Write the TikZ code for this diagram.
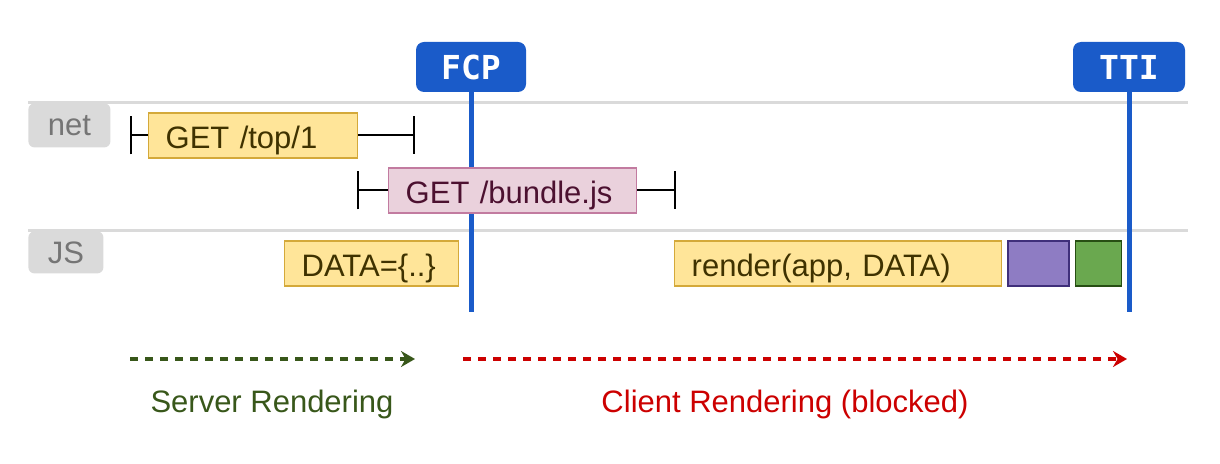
\documentclass[tikz,border=0pt]{standalone}
\usepackage{fontspec}
\setmainfont{Liberation Sans}
\newfontfamily\markfont{DejaVu Sans Mono}
\usetikzlibrary{arrows.meta,positioning}

\definecolor{markblue}{HTML}{1A5BC9}
\definecolor{lanegray}{HTML}{DADADA}
\definecolor{tabtext}{HTML}{757575}
\definecolor{yfill}{HTML}{FFE599}
\definecolor{ydraw}{HTML}{D4A93A}
\definecolor{ytext}{HTML}{3F3200}
\definecolor{pfill}{HTML}{EAD1DC}
\definecolor{pdraw}{HTML}{C27BA0}
\definecolor{ptext}{HTML}{4C1130}
\definecolor{vfill}{HTML}{8E7CC3}
\definecolor{vdraw}{HTML}{3F2F7A}
\definecolor{gfill}{HTML}{6AA84F}
\definecolor{gdraw}{HTML}{274E13}
\definecolor{srvgreen}{HTML}{38571A}
\definecolor{clired}{HTML}{CC0000}

\tikzset{
  marker/.style={fill=markblue, rounded corners=4pt, minimum height=25pt, text=white, font=\markfont\bfseries\fontsize{16.5}{18}\selectfont},
  markline/.style={markblue, line width=2.5pt},
  tab/.style={fill=lanegray, text=tabtext, rounded corners=3pt, anchor=north west, minimum height=22pt},
  lane/.style={lanegray, line width=1.5pt},
  task/.style={draw=ydraw, fill=yfill, text=ytext, line width=0.7pt, minimum height=22.5pt, anchor=west, align=left, inner xsep=8.5pt, text width=#1, text height=13.3pt, text depth=0.4pt},
  fetch/.style={task=#1, draw=pdraw, fill=pfill, text=ptext},
  chunk/.style={minimum width=#1, minimum height=22.5pt, line width=0.7pt},
  span/.style={line width=1pt, {Bar[width=19pt]}-{Bar[width=19pt]}},
  phase/.style={line width=2pt, dash pattern=on 4pt off 3.5pt, -{Stealth[length=7pt, width=8pt]}}
}

\begin{document}
\begin{tikzpicture}[x=0.5pt, y=-0.5pt, every node/.style={inner sep=0pt, font=\fontsize{15.5}{18}\selectfont}]
    \useasboundingbox (0,0) rectangle (1220,464);

    % lanes
    \node (net) [tab, minimum width=41pt] at (28,103) {net};
    \node (js) [tab, minimum width=37.5pt, minimum height=21pt] at (28,231) {JS};
    \coordinate (netEnd) at (1188,103);
    \coordinate (jsEnd) at (1188,231);
    \draw[lane] (net.north west) -- (netEnd);
    \draw[lane] (js.north west) -- (jsEnd);

    % milestones
    \node (fcp) [marker, minimum width=55pt] at (471,67) {FCP};
    \node (tti) [marker, minimum width=56pt] at (1129,67) {TTI};
    \coordinate (fcpEnd) at (471,312);
    \coordinate (ttiEnd) at (1129,312);
    \draw[markline] (fcp.south) -- (fcpEnd);
    \draw[markline] (tti.south) -- (ttiEnd);

    % requests
    \coordinate (topStart) at (130,135.5);
    \coordinate (topEnd) at (415,135.5);
    \coordinate (bundleStart) at (357,190.5);
    \coordinate (bundleEnd) at (676,190.5);
    \draw[span] (topStart) -- (topEnd);
    \draw[span] (bundleStart) -- (bundleEnd);
    \node (top) [task=87.5pt] at (148,135.5) {GET /top/1};
    \node (bundle) [fetch=107pt] at (388,190.5) {GET /bundle.js};

    % scripts
    \node (data) [task=70pt] at (284,263.5) {DATA=\{..\}};
    \node (render) [task=146.5pt] at (674,263.5) {render(app, DATA)};
    \node (layout) [chunk=30.5pt, draw=vdraw, fill=vfill, right=2.5pt of render] {};
    \node (paint) [chunk=23pt, draw=gdraw, fill=gfill, right=2.5pt of layout] {};

    % phases
    \coordinate (srvA) at (130,359);
    \coordinate (srvB) at (415,359);
    \coordinate (cliA) at (463,359);
    \coordinate (cliB) at (1127,359);
    \draw[phase, srvgreen] (srvA) -- (srvB);
    \draw[phase, clired] (cliA) -- (cliB);
    \node (srvText) [text=srvgreen] at (272,404) {Server Rendering};
    \node (cliText) [text=clired] at (785,404) {Client Rendering (blocked)};
\end{tikzpicture}
\end{document}
